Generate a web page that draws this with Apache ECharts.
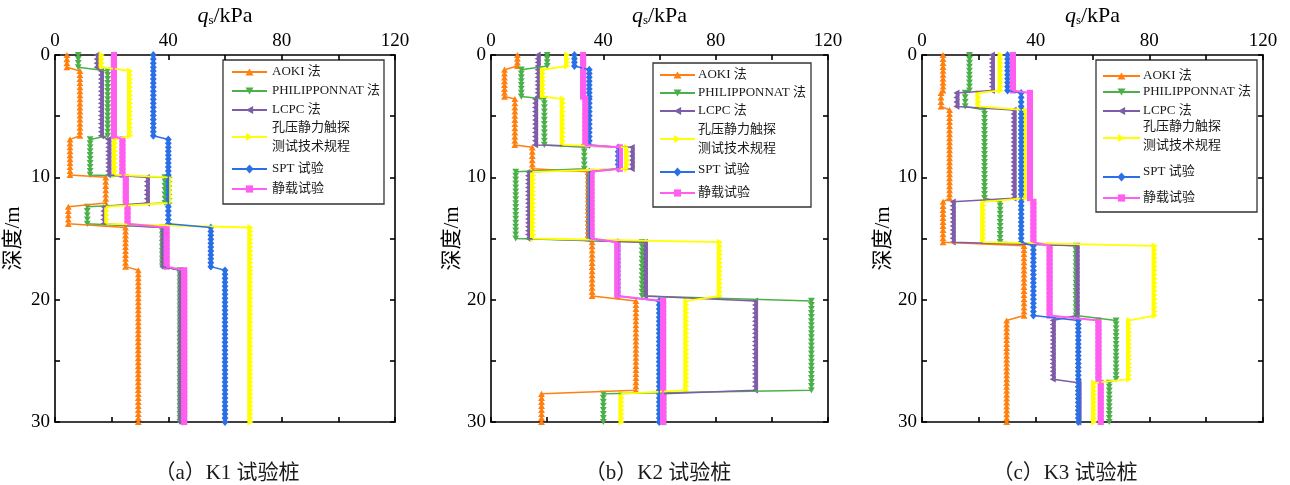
<!DOCTYPE html>
<html><head><meta charset="utf-8">
<script src="https://cdn.jsdelivr.net/npm/echarts@6/dist/echarts.min.js"></script>
<style>html,body{margin:0;padding:0;background:#fff}#c{width:1290px;height:485px}</style>
</head><body><div id="c"></div>
<script>
// ---------- data ----------
const methodNames = ['AOKI 法', 'PHILIPPONNAT 法', 'LCPC 法', '孔压静力触探\n测试技术规程', 'SPT 试验', '静载试验'];
const xLabelTicks = [0, 40, 80, 120];
const yLabelTicks = [0, 10, 20, 30];
const panelTitles = ['（a）K1 试验桩', '（b）K2 试验桩', '（c）K3 试验桩'];

// K1 layers (depth m)
const k1Tops = [0, 1.3, 6.9, 10.0, 12.4, 14.1, 17.6];
const k1Bots = [1.0, 6.6, 9.8, 12.1, 13.8, 17.3, 30];
const k1Aoki  = [4.2, 8.8, 5.3, 17.9, 4.7, 24.9, 29.4];
const k1Phil  = [8.2, 18.6, 12.4, 38.8, 11.4, 37.9, 44.1];
const k1Lcpc  = [14.7, 16.2, 18.8, 32.4, 17.1, 37.9, 44.1];
const k1Cptu  = [16.5, 26.5, 21.2, 40.6, 18.2, 69.0, 69.0];
const k1Spt   = [34.7, 34.7, 40.0, 40.0, 40.0, 55.0, 60.0];
const k1Load  = [20.8, 20.8, 23.8, 25.0, 25.6, 39.4, 45.6];

// K2 layers
const k2Tops = [0, 1.2, 3.6, 7.55, 9.55, 15.3, 20.1, 27.7];
const k2Bots = [0.9, 3.4, 7.35, 9.3, 15.0, 19.7, 27.4, 30];
const k2Aoki  = [9.4, 4.8, 8.5, 14.7, 34.6, 36.0, 51.6, 18.0];
const k2Phil  = [20.0, 10.8, 19.0, 33.2, 8.8, 53.8, 114.1, 40.0];
const k2Lcpc  = [16.6, 16.6, 15.7, 50.1, 13.2, 54.8, 94.0, 61.3];
const k2Cptu  = [27.1, 18.5, 25.6, 48.5, 15.0, 81.5, 69.6, 46.5];
const k2Spt   = [29.7, 35.0, 35.0, 45.3, 35.0, 45.1, 59.9, 59.9];
const k2Load  = [32.8, 32.8, 33.6, 45.9, 35.8, 45.0, 61.3, 61.3];

// K3 layers
const k3Tops = [0, 3.1, 4.5, 12.0, 15.6, 21.7, 26.8];
const k3Bots = [2.9, 4.2, 11.7, 15.3, 21.3, 26.5, 30];
const k3Aoki  = [7.4, 6.7, 9.7, 7.4, 35.9, 29.8, 29.8];
const k3Phil  = [16.7, 15.2, 22.0, 27.5, 54.2, 68.3, 65.9];
const k3Lcpc  = [24.6, 12.1, 32.2, 10.8, 54.4, 46.0, 55.0];
const k3Cptu  = [27.7, 19.9, 36.3, 21.6, 81.9, 72.9, 60.6];
const k3Spt   = [30.1, 34.9, 34.9, 34.9, 39.2, 55.0, 55.0];
const k3Load  = [32.0, 38.0, 38.0, 39.2, 44.9, 62.1, 62.9];

// ---------- styling ----------
const colors = ['#FF8010', '#4CB04A', '#7E5CA8', '#FFFF00', '#2A6FE6', '#FF5EF0'];
const lineWidths = [1.5, 1.5, 1.5, 1.8, 1.5, 2];
const shapes = ['up', 'down', 'left', 'right', 'diamond', 'square'];
const grids = [
  {left: 55, top: 49, width: 340, height: 373},
  {left: 491, top: 48, width: 337, height: 374},
  {left: 922, top: 49, width: 341, height: 373}
];
const serif = "'Liberation Serif','Noto Sans CJK SC'";

function markerShape(shape, cx, cy, s, fill) {
  const w = s / 2, h = s * 0.45;
  let pts;
  if (shape === 'square') {
    return {type: 'rect', shape: {x: cx - w * 0.9, y: cy - w * 0.9, width: w * 1.8, height: w * 1.8}, style: {fill: fill}};
  }
  if (shape === 'up') pts = [[cx, cy - h], [cx + w, cy + h], [cx - w, cy + h]];
  else if (shape === 'down') pts = [[cx - w, cy - h], [cx + w, cy - h], [cx, cy + h]];
  else if (shape === 'left') pts = [[cx - h, cy], [cx + h, cy - w], [cx + h, cy + w]];
  else if (shape === 'right') pts = [[cx + h, cy], [cx - h, cy - w], [cx - h, cy + w]];
  else pts = [[cx, cy - w * 1.15], [cx + w, cy], [cx, cy + w * 1.15], [cx - w, cy]];
  return {type: 'polygon', shape: {points: pts}, style: {fill: fill}};
}

function makeRender(m) {
  return function (params, api) {
    const v = api.value(0), t = api.value(1), b = api.value(2);
    const p1 = api.coord([v, t]), p2 = api.coord([v, b]);
    const step = 4;
    const n = Math.max(1, Math.round((p2[1] - p1[1]) / step));
    const children = [];
    for (let k = 0; k <= n; k++) {
      const y = p1[1] + (p2[1] - p1[1]) * k / n;
      children.push(markerShape(shapes[m], p1[0], y, 6.8, colors[m]));
    }
    return {type: 'group', children: children};
  };
}

const panels = [
  {tops: k1Tops, bots: k1Bots, vals: [k1Aoki, k1Phil, k1Lcpc, k1Cptu, k1Spt, k1Load]},
  {tops: k2Tops, bots: k2Bots, vals: [k2Aoki, k2Phil, k2Lcpc, k2Cptu, k2Spt, k2Load]},
  {tops: k3Tops, bots: k3Bots, vals: [k3Aoki, k3Phil, k3Lcpc, k3Cptu, k3Spt, k3Load]}
];

const xAxes = [], yAxes = [], series = [];
const axisLine = {show: true, onZero: false, lineStyle: {color: '#000', width: 1.6}};
const axisTick = {show: true, inside: true, length: 5, lineStyle: {color: '#000', width: 1.6}};

panels.forEach((p, gi) => {
  xAxes.push({
    gridIndex: gi, type: 'value', position: 'top', min: 0, max: 120, interval: 20,
    axisLine: axisLine, axisTick: axisTick, splitLine: {show: false},
    axisLabel: {margin: 4, color: '#000', fontSize: 19, fontFamily: serif,
      formatter: v => xLabelTicks.includes(v) ? String(v) : ''},
    name: '{q|q}{s|s}{t|/kPa}', nameLocation: 'middle', nameGap: 28,
    nameTextStyle: {rich: {
      q: {fontSize: 22, fontStyle: 'italic', fontFamily: serif, color: '#000'},
      s: {fontSize: 13, fontFamily: serif, color: '#000', padding: [9, 0, 0, 0]},
      t: {fontSize: 22, fontFamily: serif, color: '#000'}
    }}
  });
  xAxes.push({
    gridIndex: gi, type: 'value', position: 'bottom', min: 0, max: 120, interval: 20,
    axisLine: axisLine, axisTick: axisTick, axisLabel: {show: false}, splitLine: {show: false}
  });
  yAxes.push({
    gridIndex: gi, type: 'value', position: 'left', inverse: true, min: 0, max: 30, interval: 5,
    axisLine: axisLine, axisTick: axisTick, splitLine: {show: false},
    axisLabel: {margin: 5, color: '#000', fontSize: 19, fontFamily: serif,
      formatter: v => yLabelTicks.includes(v) ? String(v) : ''},
    name: '深度/m', nameLocation: 'middle', nameGap: gi === 0 ? 31 : (gi === 1 ? 28 : 25), nameRotate: 90,
    nameTextStyle: {fontSize: 21, fontFamily: serif, color: '#000'}
  });
  yAxes.push({
    gridIndex: gi, type: 'value', position: 'right', inverse: true, min: 0, max: 30, interval: 5,
    axisLine: axisLine, axisTick: axisTick, axisLabel: {show: false}, splitLine: {show: false}
  });

  p.vals.forEach((arr, m) => {
    const pts = [], segs = [];
    arr.forEach((v, i) => {
      pts.push([v, p.tops[i]]);
      pts.push([v, p.bots[i]]);
      segs.push([v, p.tops[i], p.bots[i]]);
    });
    series.push({
      type: 'line', name: methodNames[m], xAxisIndex: gi * 2, yAxisIndex: gi * 2,
      data: pts, showSymbol: false, symbol: 'none', silent: true,
      lineStyle: {color: colors[m], width: lineWidths[m]}
    });
    series.push({
      type: 'custom', xAxisIndex: gi * 2, yAxisIndex: gi * 2, silent: true,
      data: segs, encode: {x: 0, y: [1, 2]}, renderItem: makeRender(m)
    });
  });
});

// ---------- legend (graphic) ----------
const legends = [
  {box: [223, 60, 384, 204], lx: [232, 267], tx: 272, rows: [[72, 72], [91, 91], [110, 110], [137, 137], [169, 169], [189, 189]]},
  {box: [653, 63, 811, 207], lx: [660, 695], tx: 698, rows: [[75, 75], [93, 93], [111, 111], [139, 139], [172, 170], [193, 193]]},
  {box: [1096, 60, 1257, 212], lx: [1103, 1140], tx: 1143, rows: [[76, 76], [92, 92], [111, 111], [138, 136], [177, 172], [198, 198]]}
];
const graphic = [];
legends.forEach(L => {
  graphic.push({type: 'rect', shape: {x: L.box[0], y: L.box[1], width: L.box[2] - L.box[0], height: L.box[3] - L.box[1]},
    style: {fill: 'none', stroke: '#333', lineWidth: 1.3}, silent: true});
  methodNames.forEach((nm, m) => {
    const [ly, ty] = L.rows[m];
    graphic.push({type: 'line', shape: {x1: L.lx[0], y1: ly, x2: L.lx[1], y2: ly},
      style: {stroke: colors[m], lineWidth: 2}, silent: true});
    const mk = markerShape(shapes[m], (L.lx[0] + L.lx[1]) / 2, ly, 8, colors[m]);
    mk.silent = true;
    graphic.push(mk);
    graphic.push({type: 'text', x: L.tx, y: ty, silent: true,
      style: {text: nm, fontSize: 13, lineHeight: 19, fontFamily: serif, fill: '#1a1a1a', textVerticalAlign: 'middle', verticalAlign: 'middle'}});
  });
});
const capX = [227, 658, 1065];
panelTitles.forEach((t, i) => {
  graphic.push({type: 'text', x: capX[i], y: 473, silent: true,
    style: {text: t, fontSize: 21, fontFamily: serif, fill: '#1a1a1a', align: 'center', verticalAlign: 'middle', textAlign: 'center', textVerticalAlign: 'middle'}});
});

const chart = echarts.init(document.getElementById('c'), null, {renderer: 'canvas'});
chart.setOption({
  animation: false,
  backgroundColor: '#fff',
  grid: grids,
  xAxis: xAxes,
  yAxis: yAxes,
  series: series,
  graphic: graphic
});
</script>
</body></html>
